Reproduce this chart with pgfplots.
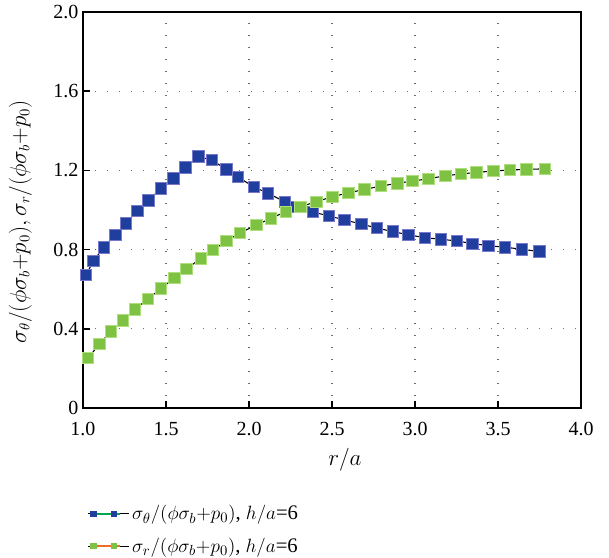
\documentclass[border=0pt]{standalone}
\usepackage{fontspec}
\setmainfont{Liberation Serif}
\usepackage{pgfplots}
\usepackage{pgfplotstable}
\pgfplotsset{compat=1.18}
\definecolor{bluemk}{RGB}{32,62,158}
\definecolor{bluebd}{RGB}{120,120,205}
\definecolor{greenmk}{RGB}{125,194,66}
\definecolor{greenbd}{RGB}{175,222,125}
\definecolor{leggreen}{RGB}{0,165,80}
\definecolor{legorange}{RGB}{240,110,35}
\definecolor{gridgray}{RGB}{110,110,110}

% sigma_theta / (phi sigma_b + p0)
\pgfplotstableread{
x y
1.019 0.672
1.063 0.744
1.127 0.812
1.194 0.875
1.258 0.933
1.328 0.996
1.394 1.049
1.470 1.109
1.544 1.160
1.616 1.215
1.694 1.271
1.775 1.252
1.865 1.205
1.934 1.166
2.029 1.117
2.115 1.084
2.215 1.042
2.285 1.017
2.385 0.990
2.481 0.970
2.576 0.950
2.676 0.929
2.770 0.909
2.866 0.891
2.959 0.875
3.061 0.860
3.157 0.852
3.251 0.844
3.347 0.830
3.443 0.820
3.541 0.812
3.644 0.802
3.748 0.790
}\sigtheta

% sigma_r / (phi sigma_b + p0)
\pgfplotstableread{
x y
1.031 0.252
1.099 0.324
1.169 0.386
1.240 0.442
1.314 0.499
1.390 0.551
1.470 0.603
1.550 0.657
1.624 0.702
1.709 0.756
1.784 0.798
1.865 0.844
1.945 0.884
2.045 0.924
2.131 0.958
2.221 0.991
2.311 1.017
2.406 1.042
2.502 1.067
2.600 1.087
2.696 1.104
2.796 1.121
2.894 1.135
2.984 1.146
3.082 1.158
3.183 1.173
3.277 1.182
3.371 1.190
3.473 1.197
3.572 1.202
3.671 1.205
3.782 1.208
}\sigr

\begin{document}
\begin{tikzpicture}
\begin{axis}[
  scale only axis,
  width=373.5pt, height=297pt,
  xmin=1, xmax=4, ymin=0, ymax=2,
  xtick={1,1.5,2,2.5,3,3.5,4},
  xticklabels={1.0,1.5,2.0,2.5,3.0,3.5,4.0},
  ytick={0,0.4,0.8,1.2,1.6,2.0},
  yticklabels={0,0.4,0.8,1.2,1.6,2.0},
  tick pos=left, tick align=inside,
  major tick length=5pt,
  tick style={line width=1.2pt, black},
  grid=major,
  grid style={gridgray, line width=0.9pt, dash pattern=on 0.9pt off 8.1pt},
  axis line style={line width=0.9pt},
  ticklabel style={font=\fontsize{15}{17}\selectfont},
  xticklabel style={yshift=-7pt},
  label style={font=\fontsize{16}{18}\selectfont},
  xlabel={$r/a$},
  xlabel style={at={(axis description cs:0.526,-0.131)}, anchor=center},
  ylabel={$\sigma_\theta/(\phi\sigma_b{+}p_0),\sigma_r/(\phi\sigma_b{+}p_0)$},
  ylabel style={at={(axis description cs:-0.126,0.47)}, anchor=center},
  legend style={at={(axis description cs:0.0,-0.232)}, anchor=north west, draw=none, fill=none,
    font=\fontsize{15.5}{18}\selectfont, row sep=8pt},
  legend cell align=left,
]
\addplot[only marks, mark=square*, mark size=4.3pt,
  mark options={fill=bluemk, draw=bluebd, line width=0.6pt}, forget plot] table {\sigtheta};
\addplot[black, line width=0.8pt, forget plot] table {\sigtheta};
\addplot[only marks, mark=square*, mark size=4.3pt,
  mark options={fill=greenmk, draw=greenbd, line width=0.6pt}, forget plot] table {\sigr};
\addplot[black, line width=0.8pt, forget plot] table {\sigr};

\addlegendimage{legend image code/.code={
  \path (0cm,0cm) -- (1.1cm,0cm);
  \draw[leggreen, line width=1.4pt] (0.1cm,0cm) -- (0.85cm,0cm);
  \fill[bluemk] (0.08cm,-0.07cm) rectangle (0.22cm,0.07cm);
  \fill[bluemk] (0.62cm,-0.07cm) rectangle (0.76cm,0.07cm);}}
\addlegendentry{$\sigma_\theta/(\phi\sigma_b{+}p_0)$, $h/a$=6}
\addlegendimage{legend image code/.code={
  \path (0cm,0cm) -- (1.1cm,0cm);
  \draw[legorange, line width=1.4pt] (0.1cm,0cm) -- (0.85cm,0cm);
  \fill[greenmk] (0.08cm,-0.07cm) rectangle (0.22cm,0.07cm);
  \fill[greenmk] (0.62cm,-0.07cm) rectangle (0.76cm,0.07cm);}}
\addlegendentry{$\sigma_r/(\phi\sigma_b{+}p_0)$, $h/a$=6}
\end{axis}
\pgfresetboundingbox
\path ([shift={(-62.25pt,-111.75pt)}]current axis.south west)
  rectangle ([shift={(21pt,9pt)}]current axis.north east);
\end{tikzpicture}
\end{document}
